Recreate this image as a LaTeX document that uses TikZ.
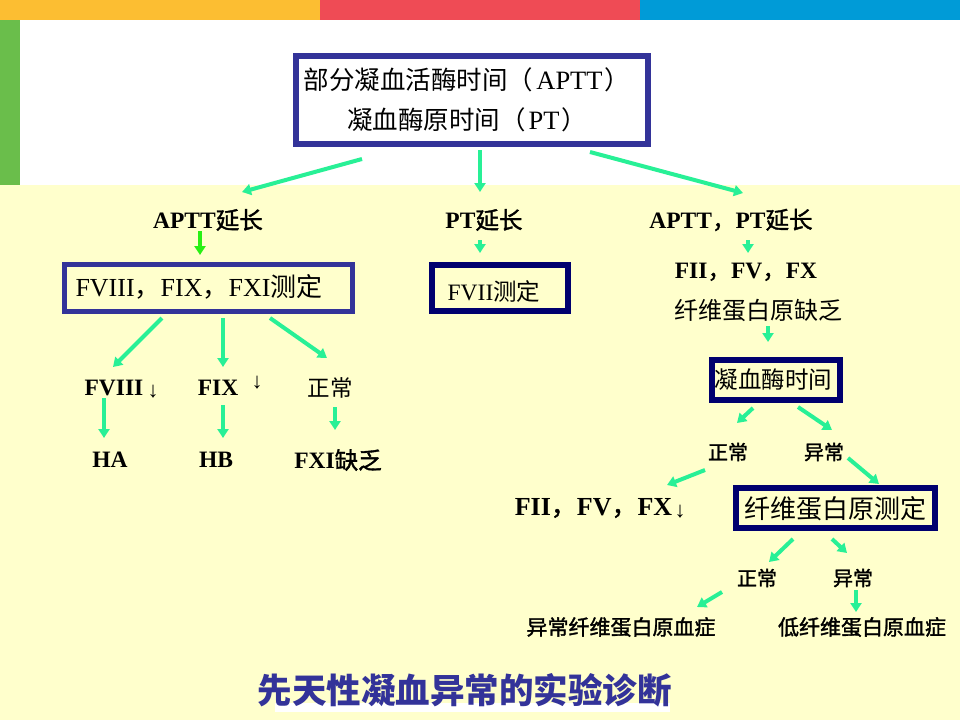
\documentclass[tikz,border=0pt]{standalone}
\usepackage{fontspec}
\setmainfont{Liberation Serif}
\newfontfamily\cjk{Noto Sans CJK SC}
\newfontfamily\cjkb[FakeBold=1.6]{Noto Sans CJK SC}
\usetikzlibrary{arrows.meta}
\newcommand\zhtxt[1]{{\cjk #1}}
\newcommand\zhbold[1]{{\cjkb\mdseries #1}}
\definecolor{bgy}{RGB}{255,255,204}
\definecolor{orng}{RGB}{252,190,50}
\definecolor{redc}{RGB}{239,75,85}
\definecolor{bluc}{RGB}{0,155,215}
\definecolor{grnb}{RGB}{106,190,75}
\definecolor{mint}{RGB}{40,240,150}
\definecolor{brgreen}{RGB}{40,240,20}
\definecolor{navyA}{RGB}{51,51,153}
\definecolor{navyB}{RGB}{0,0,110}
\tikzset{
  boxA/.style={draw=navyA, line width=6pt, inner sep=0pt},
  boxB/.style={draw=navyB, line width=6pt, inner sep=0pt},
  lab/.style={inner sep=0pt, font=\bfseries\fontsize{23.5}{28}\selectfont},
  reg/.style={inner sep=0pt, font=\fontsize{22.5}{28}\selectfont},
  small/.style={inner sep=0pt, font=\fontsize{20}{24}\selectfont},
  tiny/.style={inner sep=0pt, font=\fontsize{21}{24}\selectfont},
  darr/.style={inner sep=0pt, font=\fontsize{22}{24}\selectfont},
  arr/.style={draw=mint, line width=4pt, -{Triangle[width=11pt,length=9pt]}},
  garr/.style={draw=brgreen, line width=4pt, -{Triangle[width=11pt,length=9pt]}},
}
\begin{document}
\begin{tikzpicture}[x=1pt,y=-1pt]
\useasboundingbox (0,0) rectangle (960,720);
\fill[bgy] (0,0) rectangle (960,720);
\fill[white] (20,20) rectangle (960,185);
\fill[orng] (0,0) rectangle (320,20);
\fill[redc] (320,0) rectangle (640,20);
\fill[bluc] (640,0) rectangle (960,20);
\fill[grnb] (0,20) rectangle (20,185);
\fill[white] (275,703) rectangle (670,712);

% boxes
\node[boxA, minimum width=352pt, minimum height=88pt] (top) at (472,100) {};
\node[inner sep=0pt, align=center, font=\fontsize{25.5}{40}\selectfont] (toptext) at (467,100)
  {\zhtxt{部分凝血活酶时间（}\hspace{3pt}{\fontsize{26.5}{40}\selectfont APTT}\hspace{2pt}\zhtxt{）}\\\zhtxt{凝血酶原时间（}\hspace{3pt}{\fontsize{26.5}{40}\selectfont PT}\hspace{2pt}\zhtxt{）}};
\node[boxA, line width=5pt, minimum width=288pt, minimum height=47pt] (fbox) at (208.5,288) {};
\node[inner sep=0pt, font=\fontsize{26}{30}\selectfont] (ftext) at (199,287)
  {FVIII\zhtxt{，}FIX\zhtxt{，}FXI\zhtxt{测定}};
\node[boxB, line width=6pt, minimum width=136pt, minimum height=46pt] (vbox) at (500,288) {};
\node[inner sep=0pt, font=\fontsize{23.5}{28}\selectfont] (vtext) at (494,292) {FVII\zhtxt{测定}};
\node[boxB, minimum width=128pt, minimum height=40pt] (tbox) at (776,380) {};
\node[inner sep=0pt, font=\fontsize{23.5}{28}\selectfont] (ttext) at (773.5,380) {\zhtxt{凝血酶时间}};
\node[boxB, minimum width=199pt, minimum height=40pt] (fgbox) at (835.5,508) {};
\node[inner sep=0pt, font=\fontsize{26}{30}\selectfont] (fgtext) at (835,509) {\zhtxt{纤维蛋白原测定}};

% labels
\node[lab] (aptt) at (208,220) {APTT\zhbold{延长}};
\node[lab] (pt) at (484,220) {PT\zhbold{延长}};
\node[lab] (both) at (731,220) {APTT\zhbold{，}PT\zhbold{延长}};
\node[lab] (fxx) at (746,272) {FII\zhbold{，}FV\zhbold{，}FX};
\node[inner sep=0pt, font=\fontsize{24}{28}\selectfont] (fib) at (758.5,310) {\zhtxt{纤维蛋白原缺乏}};
\node[small] (n1) at (728,452) {\zhbold{正常}};
\node[small] (ab1) at (824,452) {\zhbold{异常}};
\node[inner sep=0pt, font=\bfseries\fontsize{26}{30}\selectfont] (fxx2) at (593.5,508) {FII\zhbold{，}FV\zhbold{，}FX};
\node[darr] (dx) at (680,512) {↓};
\node[small] (n2) at (757,578) {\zhbold{正常}};
\node[small] (ab2) at (853,578) {\zhbold{异常}};
\node[tiny] (dys) at (621,627) {\zhbold{异常纤维蛋白原血症}};
\node[tiny] (hypo) at (862,627) {\zhbold{低纤维蛋白原血症}};

\node[lab] (r8) at (114,388) {FVIII};
\node[darr] (d8) at (153,392) {↓};
\node[lab] (r9) at (218,388) {FIX};
\node[darr] (d9) at (257,383) {↓};
\node[reg] (rn) at (330,388) {\zhtxt{正常}};
\node[lab] (ha) at (110,460) {HA};
\node[lab] (hb) at (216,460) {HB};
\node[lab] (fxi) at (338,460) {FXI\zhbold{缺乏}};

\node[inner sep=0pt, text=navyA, font=\cjk\bfseries\fontsize{34.5}{40}\selectfont] (title) at (464.5,690) {先天性凝血异常的实验诊断};

% connectors
\draw[arr] ([shift={(-110,59)}]top.center) -- ([shift={(34,-28)}]aptt.center);
\draw[arr] ([shift={(8,50)}]top.center) -- ([shift={(-4,-28)}]pt.center);
\draw[arr] ([shift={(118,52)}]top.center) -- ([shift={(12,-27)}]both.center);
\draw[garr] ([shift={(-8,11)}]aptt.center) -- ([shift={(-8.5,-33)}]fbox.center);
\draw[arr] ([shift={(-46.5,30)}]fbox.center) -- ([shift={(-1,-21)}]r8.center);
\draw[arr] ([shift={(14.5,30)}]fbox.center) -- ([shift={(5,-21)}]r9.center);
\draw[arr] ([shift={(61.5,30)}]fbox.center) -- ([shift={(-3,-30)}]rn.center);
\draw[arr] ([shift={(-10,10)}]r8.center) -- ([shift={(-6,-22)}]ha.center);
\draw[arr] ([shift={(5,17)}]r9.center) -- ([shift={(7,-22)}]hb.center);
\draw[arr] ([shift={(5,19)}]rn.center) -- ([shift={(-3,-30)}]fxi.center);
\draw[arr] ([shift={(-4,20)}]pt.center) -- ([shift={(-20,-35)}]vbox.center);
\draw[arr] ([shift={(17,20)}]both.center) -- ([shift={(2,-19)}]fxx.center);
\draw[arr] ([shift={(9.5,16)}]fib.center) -- ([shift={(-8,-38)}]tbox.center);
\draw[arr] ([shift={(-23,28)}]tbox.center) -- ([shift={(9,-29)}]n1.center);
\draw[arr] ([shift={(22,27)}]tbox.center) -- ([shift={(8,-22)}]ab1.center);
\draw[arr] ([shift={(-23,18)}]n1.center) -- ([shift={(73.5,-23)}]fxx2.center);
\draw[arr] ([shift={(24,6)}]ab1.center) -- ([shift={(43.5,-24)}]fgbox.center);
\draw[arr] ([shift={(-42.5,31)}]fgbox.center) -- ([shift={(12,-16)}]n2.center);
\draw[arr] ([shift={(-3.5,31)}]fgbox.center) -- ([shift={(-6,-25)}]ab2.center);
\draw[arr] ([shift={(-35,14)}]n2.center) -- ([shift={(76,-20)}]dys.center);
\draw[arr] ([shift={(3,12)}]ab2.center) -- ([shift={(-6,-15)}]hypo.center);
\end{tikzpicture}
\end{document}
